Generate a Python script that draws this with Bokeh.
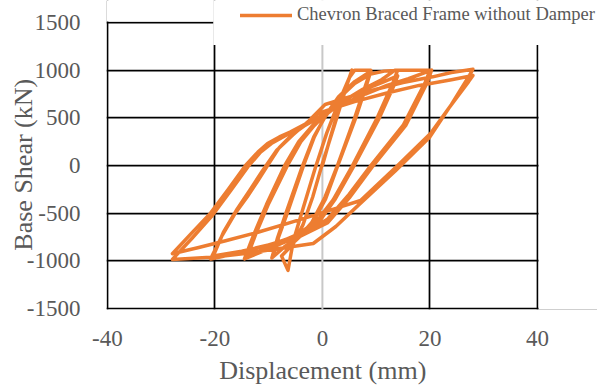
from bokeh.plotting import figure
from bokeh.models import (Span, BoxAnnotation, Legend, LegendItem, FixedTicker,
                          ColumnDataSource)
from bokeh.embed import file_html
from bokeh.resources import INLINE

# ---- data ----
x_ticks = [-40, -20, 0, 20, 40]
y_ticks = [-1500, -1000, -500, 0, 500, 1000, 1500]
x_tick_labels = ["-40", "-20", "0", "20", "40"]
y_tick_labels = ["-1500", "-1000", "-500", "0", "500", "1000", "1500"]

series_label = "Chevron Braced Frame without Damper"

# cycle ~ +/-6 mm
cycle1_x = [0.0, 1.5, 3.5, 5.5, 4.6, 2.4, 0.0, -1.8, -3.6, -5.4, -7.6, -6.4, -5.4, -3.6, -1.4, 0.8, 3.0, 5.0, 6.0]
cycle1_y = [0, 300, 680, 1000, 850, 450, 20, -330, -620, -820, -950, -1100, -790, -450, -40, 340, 660, 920, 1000]

# cycle ~ +/-9 mm
cycle2_x = [6.0, 7.5, 9.0, 8.2, 6.0, 2.8, 0.5, -2.0, -4.5, -7.0, -9.2, -8.2, -6.4, -3.5, -1.5, 0.5, 3.0, 6.0, 9.0]
cycle2_y = [1000, 1000, 1000, 870, 500, 0, -330, -600, -760, -850, -960, -760, -480, 0, 300, 520, 720, 880, 990]

cycle2b_x = [9.0, 8.3, 6.2, 3.0, 0.6, -2.2, -5.0, -7.4, -9.4, -8.4, -6.6, -3.8, -1.6, 0.5, 3.0, 6.0, 9.0]
cycle2b_y = [990, 860, 500, 20, -350, -640, -790, -870, -970, -770, -470, -20, 300, 510, 700, 860, 960]

# cycle ~ +/-14 mm
cycle3_x = [9.0, 11.5, 14.0, 13.2, 10.2, 5.6, 2.0, -1.0, -4.5, -9.0, -14.0, -12.4, -10.0, -6.5, -4.0, -1.5, 1.0, 4.5, 8.0, 11.5, 14.0]
cycle3_y = [960, 990, 1000, 880, 500, 0, -360, -580, -720, -830, -960, -720, -400, 0, 250, 420, 560, 700, 800, 880, 940]

cycle3b_x = [14.0, 13.3, 10.6, 6.0, 2.4, -0.6, -4.0, -9.0, -14.5, -12.8, -10.4, -7.0, -4.4, -1.8, 0.8, 4.0, 7.5, 11.0, 13.5]
cycle3b_y = [940, 840, 500, 10, -350, -590, -730, -850, -980, -730, -410, 0, 250, 420, 540, 680, 800, 900, 1000]

# cycle ~ +/-20 mm
cycle4_x = [13.5, 17.0, 20.0, 19.2, 15.0, 9.0, 5.0, 1.0, -3.0, -8.0, -14.0, -20.8, -18.6, -16.2, -14.0, -12.0, -10.2, -8.0, -5.5, -2.5, 0.0, 4.0, 8.0, 12.0, 16.0, 20.3]
cycle4_y = [1000, 1000, 1000, 880, 420, 0, -300, -560, -700, -800, -900, -980, -730, -500, -330, -160, 0, 190, 330, 450, 530, 650, 750, 840, 910, 1000]

cycle4b_x = [20.3, 19.5, 15.5, 9.2, 5.0, 1.0, -4.0, -9.0, -15.0, -20.3, -18.4, -16.0, -13.5, -11.2, -8.5, -5.5, -2.5, 0.5, 5.0, 10.0, 15.0, 20.5, 24.0, 28.0]
cycle4b_y = [1000, 870, 420, -20, -340, -600, -740, -820, -900, -950, -700, -470, -260, -60, 160, 320, 470, 640, 720, 800, 870, 930, 975, 1010]

# cycle ~ +/-28 mm
cycle5_x = [28.0, 27.4, 24.0, 20.1, 14.0, 7.1, 2.5, -0.9, -6.0, -12.0, -18.0, -23.0, -27.9, -24.5, -20.8, -17.5, -14.3, -12.0, -10.2, -8.0, -6.0, -3.0, -0.9, 1.0, 6.0, 12.0, 18.0, 24.0, 28.0]
cycle5_y = [1010, 950, 640, 335, 0, -367, -450, -510, -600, -700, -790, -860, -925, -720, -500, -250, 0, 140, 230, 300, 350, 440, 545, 580, 670, 760, 840, 900, 944]

cycle5b_x = [28.0, 27.2, 23.5, 20.0, 13.5, 7.0, 2.5, -1.7, -8.0, -14.0, -20.0, -27.9, -24.2, -20.4, -17.0, -13.8, -11.5, -9.5, -7.0, -4.5, -2.0, 0.0]
cycle5b_y = [944, 880, 600, 300, -60, -400, -640, -818, -870, -920, -960, -985, -760, -520, -260, -10, 140, 230, 310, 380, 460, 510]

cycles_x = [cycle1_x, cycle2_x, cycle2b_x, cycle3_x, cycle3b_x, cycle4_x, cycle4b_x, cycle5_x, cycle5b_x]
cycles_y = [cycle1_y, cycle2_y, cycle2b_y, cycle3_y, cycle3b_y, cycle4_y, cycle4b_y, cycle5_y, cycle5b_y]

disp, shear = [], []
for i, (cx, cy) in enumerate(zip(cycles_x, cycles_y)):
    start = 0 if i == 0 else 1
    disp += cx[start:]
    shear += cy[start:]

source = ColumnDataSource(data=dict(disp=disp, shear=shear))

# ---- figure ----
FONT = "'Liberation Serif', 'Times New Roman', 'DejaVu Serif', serif"
GREY = "#595959"

# The frame reaches the top and right edges of the page so that the legend
# (drawn inside the frame) is not clipped; the area outside the
# -40..40 x -1500..1500 grid is masked in white.
p = figure(frame_width=491, frame_height=309,
           x_range=(-40.15, 51.16), y_range=(-1510.5, 1730.8),
           output_backend="svg", toolbar_location=None,
           min_border_left=106, min_border_right=0,
           min_border_top=0, min_border_bottom=79)
p.outline_line_color = None
p.background_fill_color = "white"
p.border_fill_color = "white"

for ax, ticks, labels in ((p.xaxis, x_ticks, x_tick_labels),
                          (p.yaxis, y_ticks, y_tick_labels)):
    ax.ticker = FixedTicker(ticks=ticks)
    ax.major_label_overrides = {t: s for t, s in zip(ticks, labels)}
    ax.axis_line_color = None
    ax.major_tick_line_color = None
    ax.minor_tick_line_color = None
    ax.major_label_text_font = FONT
    ax.major_label_text_font_size = "23px"
    ax.major_label_text_color = GREY
    ax.axis_label_text_font = FONT
    ax.axis_label_text_font_size = "26px"
    ax.axis_label_text_font_style = "normal"
    ax.axis_label_text_color = GREY

# trailing no-break spaces re-centre the titles on the -40..40 / -1500..1500 grid
p.xaxis.axis_label = "Displacement (mm)" + "\u00a0" * 9
p.yaxis.axis_label = "Base Shear (kN)" + "\u00a0" * 3
p.xaxis.major_label_standoff = 15
p.yaxis.major_label_standoff = 20
p.xaxis.axis_label_standoff = 7
p.yaxis.axis_label_standoff = -14

p.xgrid.ticker = FixedTicker(ticks=[t for t in x_ticks if t != 0])
p.ygrid.ticker = FixedTicker(ticks=y_ticks)
for g in (p.xgrid, p.ygrid):
    g.grid_line_color = "black"
    g.grid_line_width = 1.75

zero_line = Span(location=0, dimension="height", line_color="#C8C8C8",
                 line_width=2, level="underlay")
p.add_layout(zero_line)

r = p.line("disp", "shear", source=source, line_color="#ED7D31",
           line_width=3.5, line_join="round", line_cap="round")

# white masks: legend area, space above the top grid line, right of x=40
cover_legend = BoxAnnotation(left=-20.3, bottom=1265,
                             fill_color="white", fill_alpha=1.0,
                             line_color=None, level="underlay")
cover_top = BoxAnnotation(right=-20.3, bottom=1511,
                          fill_color="white", fill_alpha=1.0,
                          line_color=None, level="underlay")
cover_right = BoxAnnotation(left=40.2,
                            fill_color="white", fill_alpha=1.0,
                            line_color=None, level="underlay")
p.add_layout(cover_legend)
p.add_layout(cover_top)
p.add_layout(cover_right)

legend = Legend(items=[LegendItem(label=series_label, renderers=[r])],
                location=(134, 284), orientation="horizontal",
                padding=0, margin=0, spacing=0,
                glyph_width=52, glyph_height=20, label_height=20,
                label_standoff=5, label_text_font=FONT,
                label_text_font_size="18.5px", label_text_color=GREY,
                background_fill_alpha=0, border_line_color=None)
p.add_layout(legend, "center")

open("out.html", "w").write(file_html(p, INLINE))
